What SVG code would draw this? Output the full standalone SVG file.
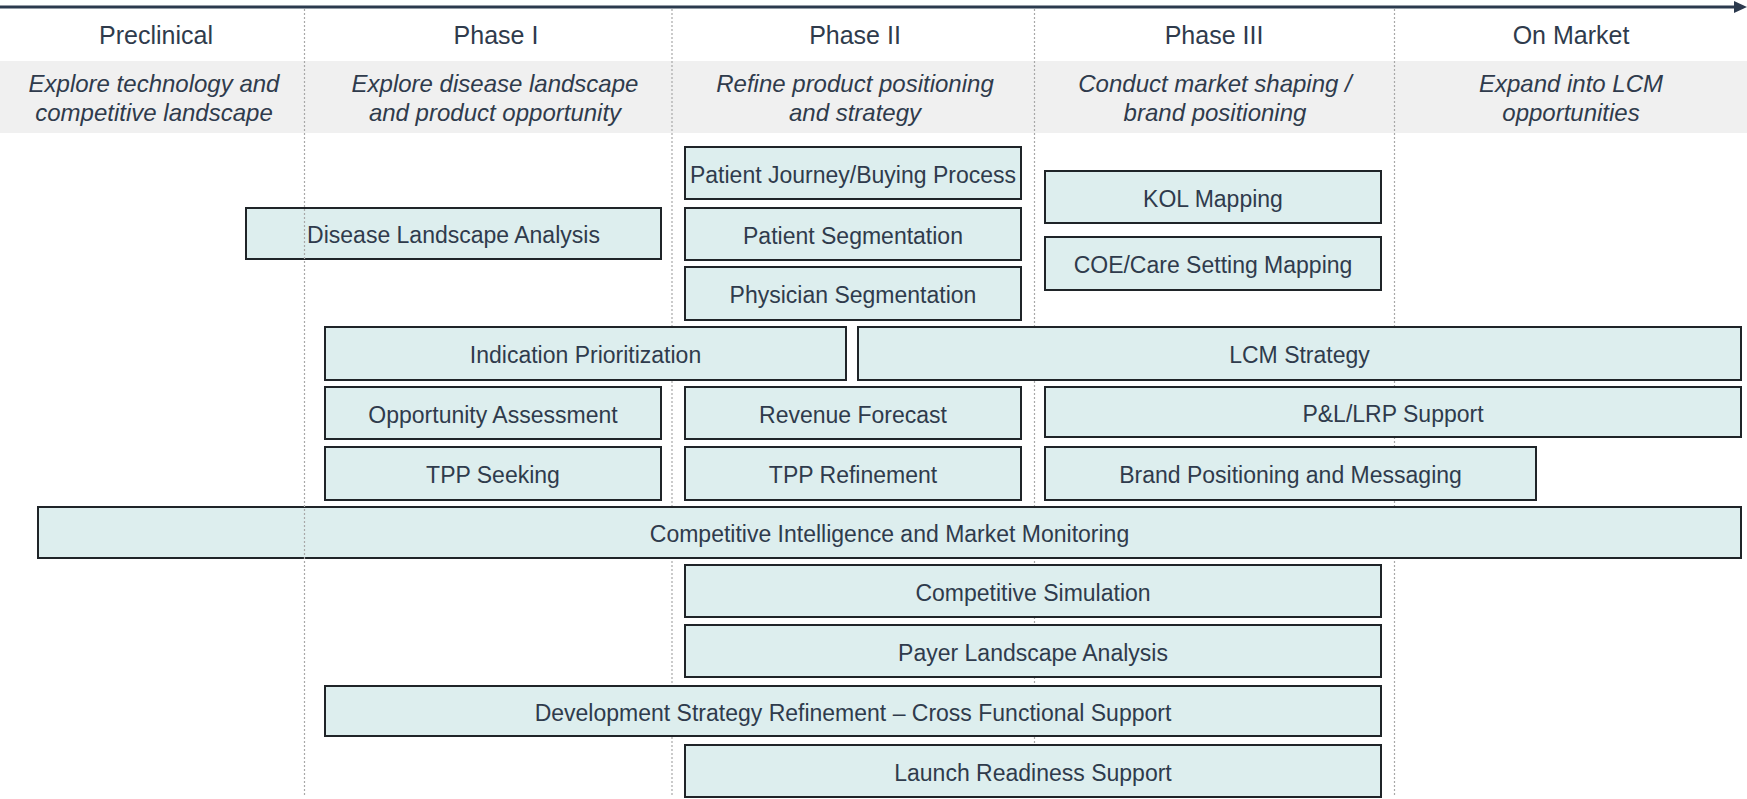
<svg xmlns="http://www.w3.org/2000/svg" width="1747" height="799" viewBox="0 0 1747 799">
<style>
.bg{fill:#ffffff}
.band{fill:#f0f0f0}
.grid{stroke:#a8a8a8;stroke-width:1.2;stroke-dasharray:2 2;fill:none}
.axis{stroke:#2c3a4e;stroke-width:3;fill:none}
.head{font-family:"Liberation Sans",Arial,sans-serif;font-size:25px;fill:#2f3b4c;text-anchor:middle}
.sub{font-family:"Liberation Sans",Arial,sans-serif;font-size:24px;font-style:italic;fill:#2f3b4c;text-anchor:middle}
.box rect{fill:#ddeeee;stroke:#1f2428;stroke-width:2}
.box text{font-family:"Liberation Sans",Arial,sans-serif;font-size:23px;fill:#2f3b4c;text-anchor:middle}
</style>
<defs>
<marker id="ah" markerWidth="14" markerHeight="14" refX="0" refY="7" orient="auto" markerUnits="userSpaceOnUse">
<path d="M0,1 L13,7 L0,13 z" fill="#2c3a4e"/>
</marker>
</defs>
<rect class="bg" x="0" y="0" width="1747" height="799"/>
<g id="header">
<rect class="band" x="0" y="61" width="1747" height="72"/>
<text class="head" x="156" y="44">Preclinical</text>
<text class="head" x="496" y="44">Phase I</text>
<text class="head" x="855" y="44">Phase II</text>
<text class="head" x="1214" y="44">Phase III</text>
<text class="head" x="1571" y="44">On Market</text>
<text class="sub" x="154" y="92">Explore technology and</text>
<text class="sub" x="154" y="121">competitive landscape</text>
<text class="sub" x="495" y="92">Explore disease landscape</text>
<text class="sub" x="495" y="121">and product opportunity</text>
<text class="sub" x="855" y="92">Refine product positioning</text>
<text class="sub" x="855" y="121">and strategy</text>
<text class="sub" x="1215" y="92">Conduct market shaping /</text>
<text class="sub" x="1215" y="121">brand positioning</text>
<text class="sub" x="1571" y="92">Expand into LCM</text>
<text class="sub" x="1571" y="121">opportunities</text>
</g>
<g id="grid-back">
<line class="grid" x1="672" y1="9" x2="672" y2="795"/>
<line class="grid" x1="1034.5" y1="9" x2="1034.5" y2="795"/>
<line class="grid" x1="1394.5" y1="9" x2="1394.5" y2="795"/>
</g>
<g id="connectors">
<line class="axis" x1="0" y1="7" x2="1734" y2="7" marker-end="url(#ah)"/>
</g>
<g id="n1" class="box"><rect x="246" y="208" width="415" height="51"/><text x="453.5" y="243">Disease Landscape Analysis</text></g>
<g id="n2" class="box"><rect x="685" y="147" width="336" height="52"/><text x="853" y="182.5">Patient Journey/Buying Process</text></g>
<g id="n3" class="box"><rect x="685" y="208" width="336" height="52"/><text x="853" y="243.5">Patient Segmentation</text></g>
<g id="n4" class="box"><rect x="685" y="267" width="336" height="53"/><text x="853" y="303">Physician Segmentation</text></g>
<g id="n5" class="box"><rect x="1045" y="171" width="336" height="52"/><text x="1213" y="206.5">KOL Mapping</text></g>
<g id="n6" class="box"><rect x="1045" y="237" width="336" height="53"/><text x="1213" y="273">COE/Care Setting Mapping</text></g>
<g id="n7" class="box"><rect x="325" y="327" width="521" height="53"/><text x="585.5" y="363">Indication Prioritization</text></g>
<g id="n8" class="box"><rect x="858" y="327" width="883" height="53"/><text x="1299.5" y="363">LCM Strategy</text></g>
<g id="n9" class="box"><rect x="325" y="387" width="336" height="52"/><text x="493" y="422.5">Opportunity Assessment</text></g>
<g id="n10" class="box"><rect x="685" y="387" width="336" height="52"/><text x="853" y="422.5">Revenue Forecast</text></g>
<g id="n11" class="box"><rect x="1045" y="387" width="696" height="50"/><text x="1393" y="421.5">P&amp;L/LRP Support</text></g>
<g id="n12" class="box"><rect x="325" y="447" width="336" height="53"/><text x="493" y="483">TPP Seeking</text></g>
<g id="n13" class="box"><rect x="685" y="447" width="336" height="53"/><text x="853" y="483">TPP Refinement</text></g>
<g id="n14" class="box"><rect x="1045" y="447" width="491" height="53"/><text x="1290.5" y="483">Brand Positioning and Messaging</text></g>
<g id="n15" class="box"><rect x="38" y="507" width="1703" height="51"/><text x="889.5" y="542">Competitive Intelligence and Market Monitoring</text></g>
<g id="n16" class="box"><rect x="685" y="565" width="696" height="52"/><text x="1033" y="600.5">Competitive Simulation</text></g>
<g id="n17" class="box"><rect x="685" y="625" width="696" height="52"/><text x="1033" y="660.5">Payer Landscape Analysis</text></g>
<g id="n18" class="box"><rect x="325" y="686" width="1056" height="50"/><text x="853" y="720.5">Development Strategy Refinement – Cross Functional Support</text></g>
<g id="n19" class="box"><rect x="685" y="745" width="696" height="52"/><text x="1033" y="780.5">Launch Readiness Support</text></g>
<g id="grid-front">
<line class="grid" x1="304.5" y1="9" x2="304.5" y2="795"/>
</g>
</svg>
